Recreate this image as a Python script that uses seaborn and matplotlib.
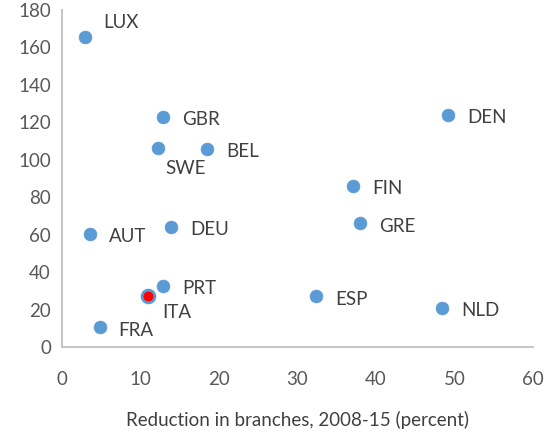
import matplotlib
matplotlib.use("Agg")
import matplotlib.pyplot as plt
import seaborn as sns
import pandas as pd

countries = ["LUX", "GBR", "SWE", "BEL", "DEN", "FIN", "GRE", "AUT", "DEU", "PRT", "ITA", "FRA", "ESP", "NLD"]
branch_reduction = [2.9, 12.9, 12.2, 18.5, 49.2, 37.1, 38.0, 3.6, 13.9, 12.9, 11.0, 4.8, 32.4, 48.4]
values = [165.5, 123, 106.5, 106, 124, 86, 66, 60.5, 64, 32.5, 27.5, 10.5, 27, 21]
label_pos = ["above", "right", "below", "right", "right", "right", "right", "right", "right", "right", "below2", "right", "right", "right"]

df = pd.DataFrame({"country": countries, "x": branch_reduction, "y": values, "pos": label_pos})

sns.set_theme(style="white")
plt.rcParams["font.family"] = ["Lato", "DejaVu Sans"]

fig = plt.figure(figsize=(5.44, 4.37), dpi=100)
ax = fig.add_axes([0.114, 0.206, 0.866, 0.771])

blue = "#5B9BD5"
others = df[df.country != "ITA"]
ita = df[df.country == "ITA"]
sns.scatterplot(data=others, x="x", y="y", color=blue, s=85, edgecolor=blue, linewidth=0.5, ax=ax, zorder=3)
sns.scatterplot(data=ita, x="x", y="y", color="#FF0000", s=85, edgecolor=blue, linewidth=2, ax=ax, zorder=4)

offsets = {"right": (13.5, -2), "above": (13.5, 10.5), "below": (5.5, -15), "below2": (10, -12)}
for _, r in df.iterrows():
    ax.annotate(r.country, (r.x, r.y), xytext=offsets[r.pos], textcoords="offset points",
                ha="left", va="center", fontsize=13.5, color="#404040")

ax.set_xlim(0, 60)
ax.set_ylim(0, 180)
ax.set_xticks(range(0, 61, 10))
ax.set_yticks(range(0, 181, 20))
ax.tick_params(axis="both", labelsize=13.5, labelcolor="#595959", length=0)
ax.tick_params(axis="x", pad=17)
ax.tick_params(axis="y", pad=8)
ax.set_xlabel("Reduction in branches, 2008-15 (percent)", fontsize=13.5, color="#404040", labelpad=17)
ax.set_ylabel("")
for s in ["top", "right"]:
    ax.spines[s].set_visible(False)
for s in ["left", "bottom"]:
    ax.spines[s].set_color("#BFBFBF")
    ax.spines[s].set_linewidth(1.3)

fig.savefig("out.png", dpi=100)
